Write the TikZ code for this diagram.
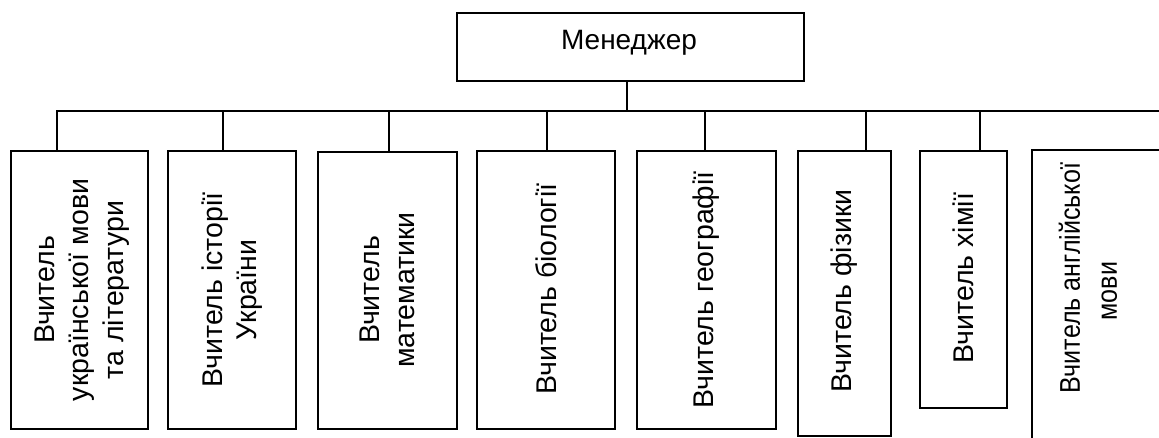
\documentclass[tikz,border=0pt]{standalone}
\usepackage{fontspec}
\setmainfont{Liberation Sans}
\begin{document}
\begin{tikzpicture}[x=1pt,y=-1pt,
  box/.style={draw=black,line width=1.7pt,fill=white},
  lbl/.style={font=\fontsize{28.5}{34.5}\selectfont,align=center,inner sep=0pt,rotate=90},
  conn/.style={draw=black,line width=1.7pt}]
\useasboundingbox (0,0) rectangle (1159,437);
\clip (0,0) rectangle (1159,437);
\fill[white] (0,0) rectangle (1159,437);
% manager
\draw[box] (457,13) rectangle (804,81);
\node[font=\fontsize{28}{32}\selectfont,inner sep=0pt,anchor=base] (m) at (629,49) {Менеджер};
\coordinate (mb) at (627,81);
% bus
\coordinate (bus) at (627,111);
\coordinate (busL) at (57,111);
\coordinate (busR) at (1170,111);
\draw[conn] (mb) -- (bus);
\draw[conn,line cap=rect] (busL) -- (busR);
% boxes
\draw[box] (11,151) rectangle (148,429);
\draw[box] (168,151) rectangle (296,429);
\draw[box] (318,152) rectangle (457,429);
\draw[box] (477,151) rectangle (615,429);
\draw[box] (637,151) rectangle (776,429);
\draw[box] (798,151) rectangle (891,436);
\draw[box] (920,151) rectangle (1007,408);
\draw[box] (1032,150) rectangle (1200,480);
% named anchors for box tops
\coordinate (t1) at (57,151);
\coordinate (t2) at (223,151);
\coordinate (t3) at (389,152);
\coordinate (t4) at (547,151);
\coordinate (t5) at (705,151);
\coordinate (t6) at (866,151);
\coordinate (t7) at (980,151);
\foreach \i in {1,...,7} {
  \draw[conn] (t\i |- bus) -- (t\i);
}
% labels
\node[lbl] (l1) at (82,290) {Вчитель\\української мови\\та літератури};
\node[lbl] (l2) at (232,290) {Вчитель історії\\України};
\node[lbl] (l3) at (387.5,290) {Вчитель\\математики};
\node[lbl] (l4) at (546,289) {Вчитель біології};
\node[lbl] (l5) at (706.5,290) {Вчитель географії};
\node[lbl] (l6) at (844.5,291) {Вчитель фізики};
\node[lbl] (l7) at (963.5,278) {Вчитель хімії};
\node[lbl] (l8) at (1091,278) {\scalebox{0.88}[1]{\def\arraystretch{1.07}\begin{tabular}{@{}c@{}}Вчитель англійської\\мови\hspace*{30pt}\end{tabular}}};
\end{tikzpicture}
\end{document}
